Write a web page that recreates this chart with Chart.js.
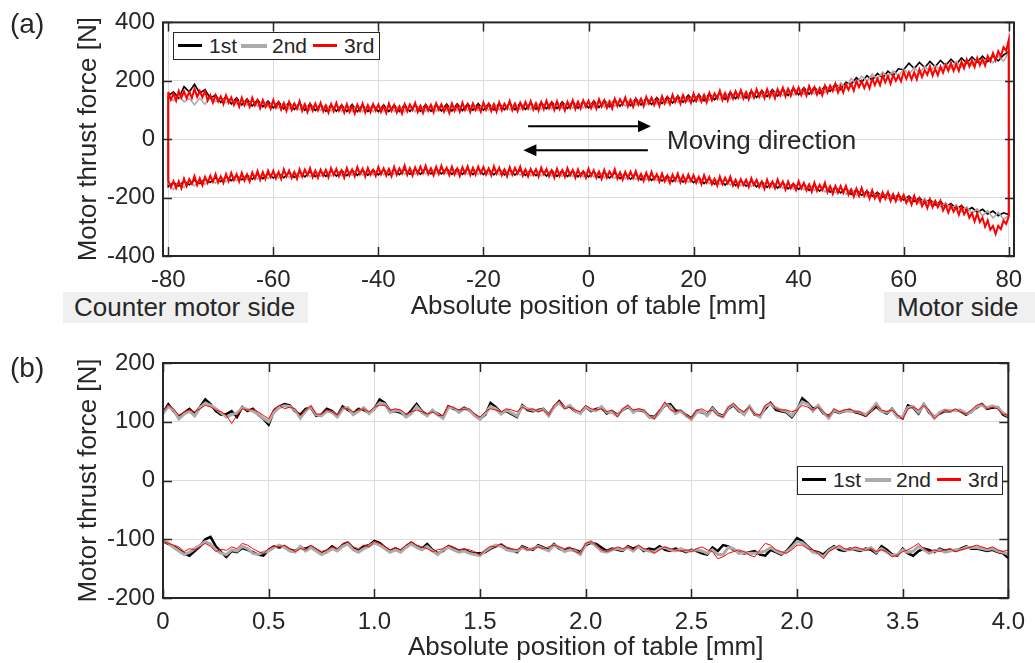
<!DOCTYPE html>
<html>
<head>
<meta charset="utf-8">
<script src="https://cdn.jsdelivr.net/npm/chart.js@4.4.1/dist/chart.umd.min.js"></script>
<style>
  body { margin: 0; background: #fff; width: 1035px; height: 663px; overflow: hidden; position: relative;
         font-family: 'Liberation Sans', Arial, sans-serif; color: #262626; }
  .panel { position: absolute; left: 0; }
  .tag { position: absolute; font-size: 28px; line-height: 1; }
  .side { position: absolute; background: #f0f0f0; font-size: 26px; line-height: 31px; height: 31px; box-sizing: border-box; }
  .note { position: absolute; font-size: 26px; line-height: 1; white-space: nowrap; }
  .legend { position: absolute; border: 1.5px solid #262626; background: #fff; box-sizing: border-box; }
  .legend .ln { position: absolute; }
  .legend .tx { position: absolute; font-size: 21px; line-height: 1; }
</style>
</head>
<body>
<div class="panel" style="top:0;width:1035px;height:330px"><canvas id="chartA" width="1035" height="330"></canvas></div>
<div class="panel" style="top:330px;width:1035px;height:333px"><canvas id="chartB" width="1035" height="333"></canvas></div>

<div class="tag" style="left:10px;top:10px">(a)</div>
<div class="tag" style="left:10px;top:354px">(b)</div>
<div class="side" style="left:63px;top:292px;width:245px;padding-left:11px">Counter motor side</div>
<div class="side" style="left:884px;top:292px;width:151px;padding-left:13px">Motor side</div>
<div class="note" style="left:667px;top:127px">Moving direction</div>
<div class="legend" id="legA" style="left:173px;top:32px;width:207px;height:28px"></div>
<div class="legend" id="legB" style="left:797px;top:466px;width:206px;height:29px"></div>

<script>
// ---- series names / colours ----
const runNames = ['1st', '2nd', '3rd'];
const runColors = ['#000000', '#ababab', '#ff0000'];

// ---- (a) axis ticks ----
const xTicksA = [-80, -60, -40, -20, 0, 20, 40, 60, 80];
const xLabelsA = ['-80', '-60', '-40', '-20', '0', '20', '40', '60', '80'];
const yTicksA = [-400, -200, 0, 200, 400];
const yLabelsA = ['-400', '-200', '0', '200', '400'];

// ---- (b) axis ticks (labels as printed in the figure) ----
const xTicksB = [0, 0.5, 1, 1.5, 2, 2.5, 3, 3.5, 4];
const xLabelsB = ['0', '0.5', '1.0', '1.5', '2.0', '2.5', '2.0', '3.5', '4.0'];
const yTicksB = [-200, -100, 0, 100, 200];
const yLabelsB = ['-200', '-100', '0', '100', '200'];

// sample positions: (a) 1st/2nd every 1 mm, 3rd every 0.5 mm; (b) every 0.025 mm
const posA = [];
for (let x = -80; x <= 80; x++) posA.push(x);
const posAf = [];
for (let i = 0; i <= 320; i++) posAf.push(-80 + i * 0.5);
const posB = [];
for (let i = 0; i <= 160; i++) posB.push(i * 0.025);

// ---- (a) forward stroke (positive force) ----
const topBlackA = [
  148,162,140,180,162,188,158,170,140,152, 126,146,121,142,117,138,114,135,111,131,
  107,128,104,126,102,123,99,121,98,119, 96,118,96,117,95,119,94,117,95,117,
  94,118,95,117,95,118,95,119,96,119, 96,119,97,120,97,121,98,121,99,122,
  99,122,100,123,101,124,101,124,102,125, 103,126,104,127,105,128,105,129,106,130,
  107,131,109,133,111,135,113,137,115,139, 117,141,119,143,122,146,124,148,127,151,
  129,153,132,156,135,159,137,161,139,163, 141,165,143,167,146,170,148,172,150,174,
  152,176,154,178,157,182,164,189,170,195, 188,211,195,218,202,225,210,233,218,241,
  238,260,242,263,245,266,248,270,252,274, 256,278,260,282,264,284,266,286,268,288,
  300];
const topGrayA = [
  150,132,150,128,140,118,140,120,146,128, 144,124,140,120,137,116,134,113,131,110,
  128,106,126,103,124,101,121,99,119,98, 118,96,117,95,117,95,117,94,116,94,
  116,94,117,94,116,94,117,94,117,95, 119,96,118,97,120,97,119,98,121,98,
  122,99,123,100,122,101,124,101,125,102, 126,103,127,104,128,105,127,106,129,107,
  130,108,132,110,134,112,136,114,138,116, 140,118,142,120,145,123,147,125,150,128,
  152,130,155,133,158,136,160,138,162,140, 164,142,166,144,169,147,171,149,173,151,
  175,153,177,155,179,158,184,166,193,175, 208,190,216,198,223,206,230,212,234,216,
  240,222,245,227,249,232,253,237,258,242, 266,247,270,252,275,258,280,262,285,267,
  298];
const topRedA = [
  162,135,156,132,165,142,164,140,163,141,173,145,165,144,165,132,151,125,151,129,
  147,120,150,125,143,117,137,111,142,116,135,111,142,116,134,106,134,110,126,104,
  134,108,127,101,123,97,128,100,122,104,130,97,119,93,121,98,122,99,124,95,
  115,91,120,96,124,98,116,91,120,93,113,88,118,97,122,91,116,93,120,98,
  119,93,114,90,122,97,117,91,111,88,120,95,119,100,124,93,114,90,117,97,
  117,92,123,100,119,94,115,90,122,97,117,94,125,100,120,93,122,99,115,94,
  126,101,121,96,119,94,126,99,121,104,131,99,121,96,125,103,127,105,130,101,
  122,98,127,103,132,106,125,100,130,103,123,98,128,107,133,103,128,105,133,111,
  132,106,128,104,137,112,133,107,128,105,138,113,137,118,143,112,134,110,138,118,
  138,113,145,122,142,117,138,114,147,122,143,120,152,127,147,121,151,128,145,124,
  156,131,152,128,151,126,159,133,156,139,166,134,157,132,161,139,164,142,168,139,
  160,136,166,142,171,145,165,141,171,144,165,140,171,150,176,146,172,149,177,155,
  177,151,173,149,182,157,178,152,173,150,183,159,183,165,190,160,183,160,188,169,
  190,166,199,178,199,175,197,174,208,185,207,185,218,195,216,190,221,200,218,198,
  231,207,229,205,229,205,239,213,237,221,249,218,242,219,249,228,254,234,261,234,
  256,234,265,243,273,249,270,247,278,253,275,252,285,267,295,270,301,283,315,303,
  340];

// ---- (a) return stroke (negative force), listed by ascending position ----
const botBlackA = [
  -162,-148,-160,-144,-156,-140,-152,-136,-148,-132, -145,-128,-142,-126,-139,-123,-137,-120,-135,-118,
  -133,-116,-132,-114,-131,-113,-129,-111,-128,-110, -127,-108,-126,-107,-125,-106,-124,-106,-123,-105,
  -122,-104,-122,-103,-121,-103,-120,-102,-120,-101, -119,-101,-119,-101,-120,-101,-120,-102,-121,-102,
  -121,-103,-122,-103,-122,-104,-123,-105,-124,-106, -125,-107,-126,-107,-127,-108,-128,-109,-129,-110,
  -129,-111,-131,-112,-133,-115,-135,-117,-137,-119, -139,-121,-141,-123,-143,-125,-145,-127,-147,-129,
  -149,-131,-152,-134,-154,-136,-157,-139,-159,-141, -161,-143,-163,-145,-165,-147,-167,-149,-170,-152,
  -172,-154,-175,-157,-178,-160,-181,-164,-184,-168, -189,-173,-192,-178,-195,-182,-199,-186,-203,-191,
  -208,-195,-213,-201,-219,-207,-225,-213,-232,-220, -239,-227,-245,-234,-250,-240,-256,-246,-262,-252,
  -258];
const botGrayA = [
  -152,-172,-148,-166,-144,-160,-140,-155,-134,-150, -129,-146,-126,-142,-123,-139,-120,-137,-117,-135,
  -114,-133,-112,-131,-111,-130,-109,-129,-108,-127, -107,-126,-106,-125,-105,-124,-104,-123,-104,-122,
  -103,-122,-102,-121,-102,-120,-101,-120,-100,-119, -100,-119,-100,-119,-100,-120,-100,-120,-101,-121,
  -101,-121,-102,-122,-102,-123,-103,-124,-104,-125, -105,-125,-106,-126,-107,-127,-108,-128,-109,-129,
  -109,-130,-111,-132,-113,-134,-115,-136,-117,-138, -119,-140,-121,-142,-123,-144,-125,-146,-127,-148,
  -129,-150,-132,-153,-134,-155,-137,-158,-139,-160, -141,-162,-143,-164,-145,-166,-147,-168,-150,-171,
  -152,-173,-155,-176,-158,-180,-162,-184,-166,-189, -170,-192,-174,-196,-178,-200,-182,-204,-187,-209,
  -192,-214,-198,-220,-204,-226,-210,-232,-217,-240, -224,-248,-231,-255,-238,-262,-244,-270,-250,-274,
  -262];
const botRedA = [
  -141,-165,-144,-168,-144,-168,-135,-161,-137,-153,-126,-157,-134,-158,-129,-150,-125,-146,-120,-148,
  -127,-150,-120,-144,-115,-140,-120,-145,-115,-142,-121,-145,-114,-135,-109,-139,-113,-136,-108,-130,
  -108,-134,-112,-136,-103,-128,-107,-133,-113,-136,-103,-128,-104,-123,-99,-130,-108,-132,-105,-125,
  -105,-130,-99,-122,-102,-127,-107,-132,-99,-124,-104,-127,-95,-120,-101,-128,-99,-122,-105,-126,
  -95,-120,-100,-125,-102,-127,-95,-122,-100,-117,-90,-122,-100,-125,-97,-119,-94,-116,-91,-120,
  -100,-124,-95,-119,-91,-117,-98,-123,-94,-121,-101,-126,-96,-117,-93,-123,-98,-121,-94,-116,
  -95,-121,-100,-124,-93,-118,-98,-124,-104,-127,-96,-121,-98,-117,-94,-125,-104,-128,-102,-122,
  -103,-128,-97,-120,-102,-127,-107,-132,-101,-126,-106,-129,-99,-124,-105,-132,-104,-127,-111,-132,
  -101,-126,-107,-132,-111,-136,-105,-132,-111,-128,-103,-135,-114,-139,-112,-134,-111,-133,-109,-138,
  -119,-143,-115,-139,-112,-138,-120,-145,-117,-144,-125,-150,-121,-142,-118,-148,-124,-147,-121,-143,
  -123,-149,-129,-154,-123,-148,-129,-155,-136,-159,-128,-154,-132,-151,-128,-159,-139,-163,-137,-157,
  -139,-164,-134,-157,-139,-164,-145,-170,-139,-164,-145,-168,-138,-163,-145,-173,-145,-168,-153,-174,
  -144,-169,-150,-176,-155,-180,-149,-177,-156,-174,-149,-182,-161,-187,-160,-183,-160,-183,-160,-190,
  -172,-197,-169,-194,-167,-194,-177,-203,-175,-203,-185,-211,-182,-204,-181,-212,-189,-213,-187,-210,
  -191,-218,-199,-224,-194,-220,-202,-229,-211,-236,-206,-233,-212,-233,-211,-244,-225,-251,-226,-248,
  -232,-259,-231,-257,-241,-269,-253,-282,-254,-284,-269,-300,-278,-310,-297,-325,-297,-308,-279,-290,
  -265];

// ---- (b) 0-4 mm detail, forward stroke ----
const topBlackB = [
  115,130,118,108,115,122,113,125,138,130, 118,112,113,118,108,125,118,122,112,105,
  95,118,126,130,128,118,112,122,124,110, 112,122,118,110,126,120,114,122,120,115,
  122,138,132,118,118,115,110,119,130,118, 112,118,114,108,126,122,118,124,119,112,
  105,112,132,125,115,118,113,108,128,120, 118,120,122,112,125,135,124,126,118,115,
  125,118,122,124,114,118,112,120,125,118, 120,118,110,108,118,128,130,119,118,112,
  106,118,116,112,124,114,110,122,128,118, 115,126,112,110,122,132,120,118,116,108,
  120,140,132,122,126,114,110,118,115,118, 120,116,114,110,118,126,118,114,122,110,
  106,128,124,114,130,116,108,114,118,118, 120,118,112,118,124,130,122,124,125,112,
  108];
const topGrayB = [
  114,126,120,105,113,118,110,124,132,128, 122,115,108,112,115,124,121,118,113,106,
  100,116,124,127,126,120,106,118,126,112, 110,118,116,108,122,124,112,118,124,114,
  122,132,130,116,120,118,108,114,126,116, 110,120,112,106,124,124,116,122,120,110,
  104,114,126,122,113,120,115,110,126,122, 120,118,121,110,126,132,123,128,119,114,
  126,120,119,126,116,116,110,121,127,116, 121,119,108,106,116,130,126,114,119,110,
  104,116,118,110,122,112,108,124,130,120, 112,126,114,108,126,130,124,120,118,110,
  122,134,130,118,128,116,106,120,116,119, 118,118,116,112,120,131,118,116,121,108,
  108,124,126,116,130,118,106,116,120,119, 119,120,114,116,126,128,124,127,124,115,
  110];
const topRedB = [
  117,128,122,111,117,120,117,122,128,125, 120,117,111,97,111,122,120,121,117,111,
  105,122,128,122,125,122,110,120,127,113, 113,120,117,111,124,122,117,120,122,117,
  125,128,128,120,122,120,113,117,120,117, 113,117,111,110,128,124,120,121,122,113,
  108,117,122,120,117,122,120,117,125,120, 122,117,120,111,128,136,122,125,120,117,
  128,122,120,122,117,120,108,122,128,120, 122,120,111,105,120,134,120,117,120,111,
  105,120,122,117,120,111,108,125,131,122, 117,125,113,111,128,134,122,120,120,117,
  120,128,125,120,125,117,108,122,117,120, 122,117,117,108,120,128,120,117,120,111,
  105,122,125,120,128,120,105,113,120,117, 122,117,113,120,128,131,122,125,122,113,
  111];

// ---- (b) 0-4 mm detail, return stroke ----
const botBlackB = [
  -103,-108,-112,-118,-124,-128,-120,-112,-100,-96, -112,-122,-130,-120,-122,-115,-118,-122,-126,-128,
  -118,-112,-114,-112,-118,-120,-114,-116,-112,-118, -124,-120,-112,-118,-110,-106,-115,-120,-112,-110,
  -103,-106,-114,-120,-116,-120,-112,-106,-112,-116, -108,-118,-124,-120,-112,-116,-120,-118,-122,-124,
  -124,-122,-116,-112,-110,-116,-118,-122,-112,-116, -118,-110,-114,-118,-108,-116,-119,-116,-118,-122,
  -110,-106,-108,-114,-120,-116,-118,-120,-112,-116, -112,-120,-116,-118,-112,-118,-120,-116,-118,-122,
  -118,-120,-124,-126,-114,-120,-110,-112,-118,-122, -124,-122,-120,-126,-128,-118,-122,-126,-120,-110,
  -98,-103,-112,-120,-122,-126,-118,-112,-118,-120, -116,-118,-120,-116,-118,-124,-112,-118,-126,-128,
  -116,-124,-128,-120,-116,-118,-122,-116,-120,-118, -120,-116,-112,-116,-116,-118,-120,-118,-122,-124,
  -132];
const botGrayB = [
  -102,-106,-114,-120,-126,-122,-116,-110,-104,-108, -118,-124,-126,-118,-120,-112,-116,-124,-126,-122,
  -120,-114,-110,-114,-120,-122,-112,-120,-114,-120, -126,-122,-116,-120,-112,-108,-118,-122,-116,-112,
  -106,-110,-116,-122,-118,-122,-114,-108,-114,-118, -112,-120,-126,-118,-114,-118,-122,-120,-124,-126,
  -128,-120,-114,-110,-112,-118,-120,-120,-114,-118, -116,-112,-116,-120,-110,-114,-121,-118,-120,-126,
  -108,-104,-112,-120,-122,-118,-116,-118,-114,-120, -112,-118,-120,-122,-116,-114,-118,-120,-116,-120,
  -120,-118,-120,-124,-118,-126,-126,-114,-116,-124, -122,-124,-124,-122,-120,-114,-120,-124,-122,-114,
  -104,-106,-114,-122,-124,-130,-120,-114,-114,-118, -118,-116,-118,-118,-114,-122,-116,-122,-128,-126,
  -118,-122,-120,-112,-118,-124,-120,-118,-122,-120, -118,-118,-114,-114,-114,-116,-118,-116,-120,-122,
  -126];
const botRedB = [
  -104,-107,-110,-113,-121,-116,-118,-113,-107,-112, -121,-117,-119,-113,-116,-107,-110,-116,-121,-124,
  -116,-112,-113,-110,-116,-121,-116,-118,-110,-116, -121,-118,-113,-116,-107,-104,-113,-116,-110,-113,
  -104,-107,-112,-118,-114,-118,-110,-104,-110,-113, -116,-121,-118,-116,-110,-113,-118,-116,-118,-121,
  -127,-118,-112,-113,-107,-113,-116,-118,-113,-118, -116,-113,-116,-113,-110,-113,-116,-113,-121,-124,
  -107,-104,-110,-118,-121,-118,-113,-116,-113,-118, -110,-116,-118,-124,-118,-113,-116,-118,-121,-118,
  -121,-116,-113,-118,-121,-133,-130,-124,-121,-118, -121,-127,-130,-118,-107,-110,-118,-121,-124,-118,
  -110,-110,-116,-118,-124,-133,-121,-116,-110,-116, -118,-113,-116,-119,-116,-121,-118,-121,-130,-127,
  -121,-118,-113,-107,-116,-121,-118,-121,-118,-116, -121,-118,-116,-113,-110,-113,-116,-113,-118,-121,
  -118];

const FONT = "'Liberation Sans', Arial, sans-serif";
const TEXT = '#262626';
const GRID = '#dcdcdc';
Chart.defaults.font.family = FONT;
Chart.defaults.color = TEXT;

function pts(xs, ys) {
    return ys.map((v, i) => ({ x: xs[i], y: v }));
}

// one continuous trace: forward stroke, then back along the return stroke
function loop(xs, top, bot) {
    const p = pts(xs, top);
    for (let i = bot.length - 1; i >= 0; i--) p.push({ x: xs[i], y: bot[i] });
    p.push({ x: xs[0], y: top[0] });
    return p;
}

// box around the axes with inward ticks on all four sides (MATLAB look)
const framePlugin = {
    id: 'frame',
    afterDatasetsDraw(chart) {
        const { ctx, chartArea: a, scales: { x, y } } = chart;
        ctx.save();
        ctx.strokeStyle = TEXT;
        ctx.lineWidth = 1.5;
        ctx.beginPath();
        x.ticks.forEach(t => {
            const px = Math.round(x.getPixelForValue(t.value)) + 0.5;
            ctx.moveTo(px, a.bottom); ctx.lineTo(px, a.bottom - 9);
            ctx.moveTo(px, a.top); ctx.lineTo(px, a.top + 9);
        });
        y.ticks.forEach(t => {
            const py = Math.round(y.getPixelForValue(t.value)) + 0.5;
            ctx.moveTo(a.left, py); ctx.lineTo(a.left + 9, py);
            ctx.moveTo(a.right, py); ctx.lineTo(a.right - 9, py);
        });
        ctx.stroke();
        ctx.lineWidth = 2;
        ctx.strokeRect(a.left, a.top, a.right - a.left, a.bottom - a.top);
        ctx.restore();
    }
};

// "moving direction" arrows, given in data units
const arrowPlugin = {
    id: 'arrows',
    afterDatasetsDraw(chart, args, opts) {
        if (!opts.items) return;
        const { ctx, scales: { x, y } } = chart;
        ctx.save();
        ctx.strokeStyle = '#000';
        ctx.fillStyle = '#000';
        ctx.lineWidth = 2;
        opts.items.forEach(it => {
            const x0 = x.getPixelForValue(it.from);
            const x1 = x.getPixelForValue(it.to);
            const py = y.getPixelForValue(it.y);
            const dir = Math.sign(x1 - x0);
            ctx.beginPath();
            ctx.moveTo(x0, py);
            ctx.lineTo(x1 - dir * 10, py);
            ctx.stroke();
            ctx.beginPath();
            ctx.moveTo(x1, py);
            ctx.lineTo(x1 - dir * 13, py - 6);
            ctx.lineTo(x1 - dir * 13, py + 6);
            ctx.closePath();
            ctx.fill();
        });
        ctx.restore();
    }
};

function axes(cfg) {
    return {
        x: {
            type: 'linear', min: cfg.xMin, max: cfg.xMax,
            afterBuildTicks: s => { s.ticks = cfg.xTicks.map(v => ({ value: v })); },
            afterFit: s => { s.height = cfg.xHeight; },
            ticks: {
                callback: (v, i) => cfg.xLabels[i],
                font: { size: 24 }, color: TEXT, padding: 10,
                maxRotation: 0, autoSkip: false
            },
            grid: { color: GRID, drawTicks: false },
            border: { display: false },
            title: {
                display: true, text: 'Absolute position of table [mm]',
                font: { size: 26 }, color: TEXT, padding: { top: 0, bottom: cfg.xTitlePad }
            }
        },
        y: {
            type: 'linear', min: cfg.yMin, max: cfg.yMax,
            afterBuildTicks: s => { s.ticks = cfg.yTicks.map(v => ({ value: v })); },
            afterFit: s => { s.width = 163; },
            ticks: {
                callback: (v, i) => cfg.yLabels[i],
                font: { size: 24 }, color: TEXT, padding: 8, autoSkip: false
            },
            grid: { color: GRID, drawTicks: false },
            border: { display: false },
            title: {
                display: true, text: 'Motor thrust force [N]',
                font: { size: 26 }, color: TEXT, padding: { top: 73, bottom: 0 }
            }
        }
    };
}

function line(data, i, width, order) {
    return {
        label: runNames[i], data: data,
        borderColor: runColors[i], backgroundColor: runColors[i],
        borderWidth: width, pointRadius: 0, fill: false, tension: 0, order: order
    };
}

// (a) full stroke
new Chart(document.getElementById('chartA'), {
    type: 'line',
    data: {
        datasets: [
            line(loop(posAf, topRedA, botRedA), 2, 2, 0),
            line(loop(posA, topGrayA, botGrayA), 1, 1.6, 1),
            line(loop(posA, topBlackA, botBlackA), 0, 1.6, 2)
        ]
    },
    options: {
        responsive: false, animation: false, normalized: true,
        layout: { padding: { top: 21, right: 21, left: 0, bottom: 0 } },
        plugins: {
            legend: { display: false }, tooltip: { enabled: false },
            arrows: { items: [{ from: -11.5, to: 11.9, y: 44 }, { from: 11.3, to: -12.4, y: -38 }] }
        },
        scales: axes({
            xMin: -81, xMax: 81, xTicks: xTicksA, xLabels: xLabelsA, xHeight: 74, xTitlePad: 8,
            yMin: -400, yMax: 400, yTicks: yTicksA, yLabels: yLabelsA
        })
    },
    plugins: [framePlugin, arrowPlugin]
});

// (b) 0-4 mm detail
new Chart(document.getElementById('chartB'), {
    type: 'line',
    data: {
        datasets: [
            line(pts(posB, topRedB), 2, 1, 0),
            line(pts(posB, botRedB), 2, 1, 0),
            line(pts(posB, topGrayB), 1, 3, 1),
            line(pts(posB, botGrayB), 1, 3, 1),
            line(pts(posB, topBlackB), 0, 2.5, 2),
            line(pts(posB, botBlackB), 0, 2.5, 2)
        ]
    },
    options: {
        responsive: false, animation: false, normalized: true,
        layout: { padding: { top: 33, right: 21, left: 0, bottom: 0 } },
        plugins: { legend: { display: false }, tooltip: { enabled: false } },
        scales: axes({
            xMin: 0, xMax: 4, xTicks: xTicksB, xLabels: xLabelsB, xHeight: 65, xTitlePad: 0,
            yMin: -200, yMax: 200, yTicks: yTicksB, yLabels: yLabelsB
        })
    },
    plugins: [framePlugin]
});

// boxed legends as in the figure
function buildLegend(id) {
    const box = document.getElementById(id);
    const lineLeft = [4, 67, 139];
    const lineWidth = [24, 26, 24];
    const lineThick = [3, 4, 3];
    const textLeft = [35, 98, 170];
    runNames.forEach((name, i) => {
        const ln = document.createElement('span');
        ln.className = 'ln';
        ln.style.cssText = `left:${lineLeft[i]}px;top:${12.5 - lineThick[i] / 2}px;width:${lineWidth[i]}px;height:${lineThick[i]}px;background:${runColors[i]}`;
        box.appendChild(ln);
        const tx = document.createElement('span');
        tx.className = 'tx';
        tx.style.cssText = `left:${textLeft[i]}px;top:2px`;
        tx.textContent = name;
        box.appendChild(tx);
    });
}
buildLegend('legA');
buildLegend('legB');
</script>
</body>
</html>
